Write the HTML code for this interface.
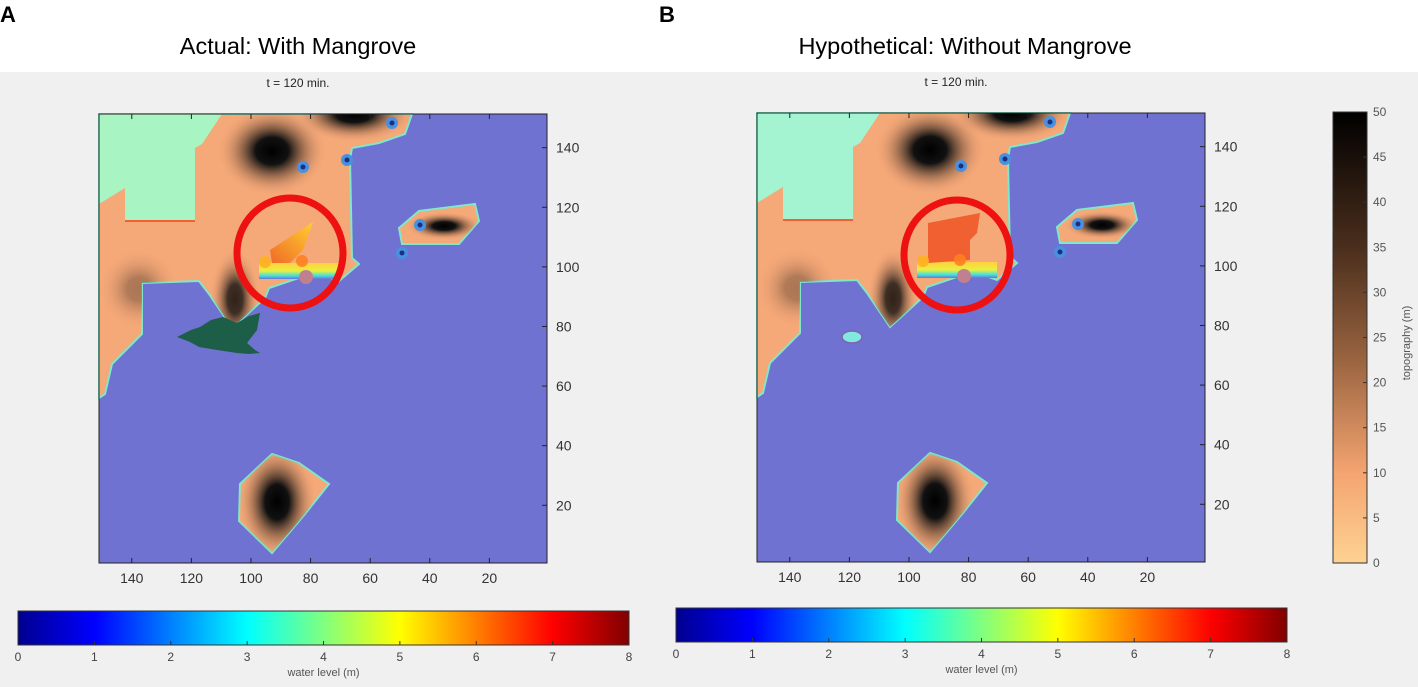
<!DOCTYPE html>
<html><head><meta charset="utf-8">
<style>
html,body{margin:0;padding:0;background:#fff;}
body{width:1418px;height:687px;position:relative;overflow:hidden;font-family:"Liberation Sans",sans-serif;}
svg{position:absolute;left:0;top:0;}
</style></head>
<body>
<svg id="fig" width="1418" height="687" viewBox="0 0 1418 687">
<defs id="defs">
<linearGradient id="jet" x1="0" x2="1" y1="0" y2="0">
<stop offset="0" stop-color="#00008f"/><stop offset="0.125" stop-color="#0000ff"/>
<stop offset="0.375" stop-color="#00ffff"/><stop offset="0.625" stop-color="#ffff00"/>
<stop offset="0.875" stop-color="#ff0000"/><stop offset="1" stop-color="#800000"/>
</linearGradient>
<linearGradient id="topo" x1="0" x2="0" y1="0" y2="1">
<stop offset="0" stop-color="#000"/><stop offset="0.3" stop-color="#4a2e1c"/>
<stop offset="0.55" stop-color="#9a6440"/><stop offset="0.8" stop-color="#f4a470"/>
<stop offset="1" stop-color="#fdd292"/>
</linearGradient>
<radialGradient id="dark"><stop offset="0" stop-color="#000"/><stop offset="0.3" stop-color="#111"/><stop offset="1" stop-color="#f5a878" stop-opacity="0"/></radialGradient>
<linearGradient id="plumeL" x1="0" y1="1" x2="1" y2="0"><stop offset="0" stop-color="#f06a28"/><stop offset="1" stop-color="#ffd030"/></linearGradient>
<linearGradient id="band" x1="0" y1="0" x2="0" y2="1"><stop offset="0" stop-color="#ffd040"/><stop offset="0.5" stop-color="#e8f040"/><stop offset="0.8" stop-color="#40e0e0"/><stop offset="1" stop-color="#7072d2"/></linearGradient>
</defs>
<rect x="0" y="72" width="1418" height="615" fill="#f0f0f0"/>
<text x="0" y="22" font-size="22" font-weight="bold">A</text>
<text x="659" y="22" font-size="22" font-weight="bold">B</text>
<text x="298" y="54" font-size="23.5" text-anchor="middle">Actual: With Mangrove</text>
<text x="965" y="54" font-size="23.5" text-anchor="middle">Hypothetical: Without Mangrove</text>
<g id="panels"></g>
</svg>
<script>
const xTicks=[140,120,100,80,60,40,20];
const yTicks=[140,120,100,80,60,40,20];
const wlTicks=[0,1,2,3,4,5,6,7,8];
const topoTicks=[0,5,10,15,20,25,30,35,40,45,50];
const NS='http://www.w3.org/2000/svg';
const root=document.getElementById('panels');
const defs=document.getElementById('defs');
function mk(tag,attrs,parent){const e=document.createElementNS(NS,tag);for(const k in attrs)e.setAttribute(k,attrs[k]);(parent||root).appendChild(e);return e;}
const land=[[0,0],[313,0],[306,20],[280,29],[253,34],[251,45],[253,144],[260,150],[240,167],[213,157],[200,164],[170,174],[166,184],[133,214],[110,180],[100,167],[43,169],[43,220],[13,250],[6,280],[0,284]];
const green=[[0,0],[123,0],[103,30],[96,34],[96,107],[26,107],[26,74],[0,90]];
const island=[[300,114],[320,97],[376,90],[380,107],[360,130],[303,130]];
const south=[[173,340],[200,349],[230,370],[206,400],[173,439],[140,407],[141,370]];
const mangrove=[[78,223],[92,216],[101,213],[112,206],[124,203],[138,209],[150,202],[161,199],[158,216],[148,229],[156,236],[161,239],[150,240],[138,239],[118,236],[100,233],[91,228]];
const plumeA=[[171,136],[214,108],[204,136],[191,149],[173,149]];
const plumeB=[[171,110],[223,100],[220,120],[213,127],[213,147],[171,150]];
const dots=[[293,9],[204,53],[248,46],[321,111],[303,139]];
function pts(a){return a.map(p=>p.join(',')).join(' ');}
function panel(L,T,key){
  const W=448,H=449;
  const px=v=>L+(151-v)*2.98, py=v=>T+(151.3-v)*2.98;
  const cp=mk('clipPath',{id:'landclip-'+key},defs);
  mk('polygon',{points:pts(land)},cp);mk('polygon',{points:pts(island)},cp);mk('polygon',{points:pts(south)},cp);
  const g=mk('g',{});
  
  
  const t=mk('text',{x:L+199,y:T-27,'font-size':12,'text-anchor':'middle',fill:'#222'},g);t.textContent='t = 120 min.';
  
  const m=mk('g',{transform:`translate(${L},${T})`},g);
  mk('rect',{x:0,y:0,width:W,height:H,fill:'#7072d2'},m);
  const ld=mk('polygon',{points:pts(land),fill:'#f5a878',stroke:'#80e8c8','stroke-width':2},m);
  
  const is=mk('polygon',{points:pts(island),fill:'#f5a878',stroke:'#80e8c8','stroke-width':2},m);
  
  const si=mk('polygon',{points:pts(south),fill:'#f5a878',stroke:'#80e8c8','stroke-width':2},m);
  
  const dk=mk('g',{'clip-path':`url(#landclip-${key})`},m);
  mk('ellipse',{cx:173,cy:37,rx:55,ry:45,fill:'url(#dark)'},dk);
  mk('ellipse',{cx:255,cy:0,rx:60,ry:28,fill:'url(#dark)'},dk);
  mk('ellipse',{cx:136,cy:185,rx:25,ry:50,fill:'url(#dark)',opacity:0.8},dk);
  mk('ellipse',{cx:40,cy:175,rx:40,ry:40,fill:'url(#dark)',opacity:0.3},dk);
  mk('ellipse',{cx:345,cy:112,rx:38,ry:14,fill:'url(#dark)'},dk);
  mk('ellipse',{cx:178,cy:388,rx:40,ry:58,fill:'url(#dark)'},dk);
  const gr=mk('polygon',{points:pts(green),fill:key==='a'?'#a8f4c2':'#a4f4d2'},m);
  
  mk('polyline',{points:'26,107 96,107',stroke:'#f06030','stroke-width':2,fill:'none'},m);
  mk('rect',{x:160,y:149,width:80,height:16,fill:'url(#band)'},m);
  if(key==='a'){
    const pl=mk('polygon',{points:pts(plumeA),fill:'url(#plumeL)'},m);
    
    const mg=mk('polygon',{points:pts(mangrove),fill:'#1c5e48'},m);
    
  } else {
    const pl=mk('polygon',{points:pts(plumeB),fill:'#f06030'},m);
    
    mk('ellipse',{cx:95,cy:224,rx:10,ry:6,fill:'#80e8e0',stroke:'#8060b0','stroke-width':1.5},m);
  }
  mk('circle',{cx:166,cy:148,r:6,fill:'#ffb020',opacity:0.9},m);
  mk('circle',{cx:203,cy:147,r:6,fill:'#ff8020',opacity:0.9},m);
  mk('circle',{cx:207,cy:163,r:7,fill:'#c08090'},m);
  dots.forEach(d=>{mk('circle',{cx:d[0],cy:d[1],r:6,fill:'#4a90e0'},m);mk('circle',{cx:d[0],cy:d[1],r:2.5,fill:'#1a3080'},m);});
  const c=mk('ellipse',{cx:key==='a'?191:200,cy:key==='a'?139:142,rx:53,ry:55,fill:'none',stroke:'#ee1111','stroke-width':7},m);
  
  mk('rect',{x:L,y:T,width:W,height:H,fill:'none',stroke:'#222','stroke-width':1},g);
  xTicks.forEach(v=>{
    const x=px(v);
    mk('line',{x1:x,x2:x,y1:T+H,y2:T+H-5,stroke:'#222'},g);
    mk('line',{x1:x,x2:x,y1:T,y2:T+5,stroke:'#222'},g);
    const tx=mk('text',{x:x,y:T+H+20,'font-size':14,'text-anchor':'middle',fill:'#333'},g);tx.textContent=v;
    
  });
  yTicks.forEach(v=>{
    const y=py(v);
    mk('line',{x1:L+W,x2:L+W-5,y1:y,y2:y,stroke:'#222'},g);
    const ty=mk('text',{x:L+W+9,y:y+5,'font-size':14,fill:'#333'},g);ty.textContent=v;
    
  });
}
panel(99,114,'a');
panel(757,113,'b');
function wlbar(L,T,key){
  const W=611,H=34;
  const cx=v=>L+v/8*W;
  const g=mk('g',{});
  
  
  mk('rect',{x:L,y:T,width:W,height:H,fill:'url(#jet)',stroke:'#333'},g);
  wlTicks.forEach(v=>{
    mk('line',{x1:cx(v),x2:cx(v),y1:T+H,y2:T+H-4,stroke:'#333'},g);
    const t=mk('text',{x:cx(v),y:T+H+16,'font-size':12,'text-anchor':'middle',fill:'#444'},g);t.textContent=v;
    
  });
  const lb=mk('text',{x:L+W/2,y:T+H+31,'font-size':11,'text-anchor':'middle',fill:'#555'},g);lb.textContent='water level (m)';
  
}
wlbar(18,611,'a');
wlbar(676,608,'b');
(function(){
  const L=1333,T=112,W=34,H=451;
  const ty=v=>T+H-v/50*H;
  const g=mk('g',{});
  
  
  mk('rect',{x:L,y:T,width:W,height:H,fill:'url(#topo)',stroke:'#333'},g);
  topoTicks.forEach(v=>{
    mk('line',{x1:L+W,x2:L+W-4,y1:ty(v),y2:ty(v),stroke:'#333'},g);
    const t=mk('text',{x:L+W+6,y:ty(v)+4,'font-size':12,fill:'#555'},g);t.textContent=v;
    
  });
  const lb=mk('text',{x:1410,y:343,'font-size':11,'text-anchor':'middle',fill:'#555',transform:'rotate(-90 1410 343)'},g);lb.textContent='topography (m)';
  
})();
</script>
</body></html>
